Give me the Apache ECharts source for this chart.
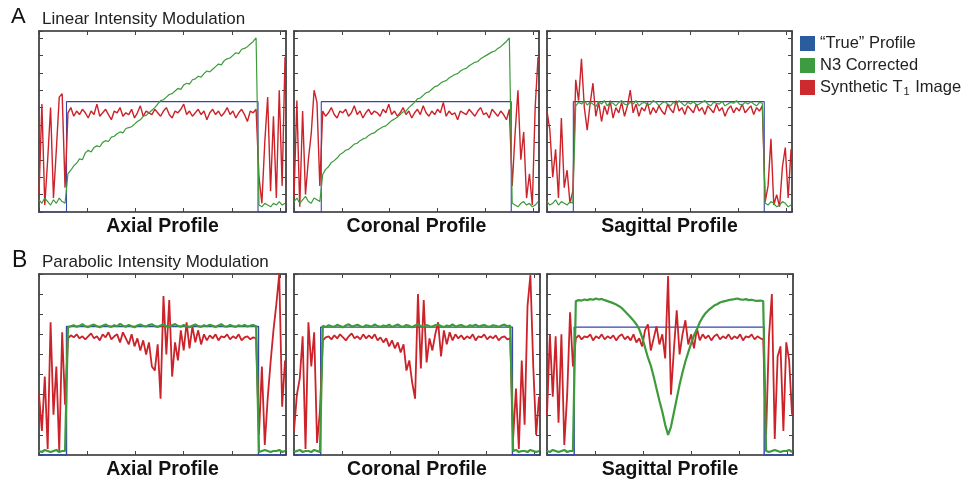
<!DOCTYPE html>
<html>
<head>
<meta charset="utf-8">
<script src="https://cdn.jsdelivr.net/npm/echarts@6/dist/echarts.min.js"></script>
<style>
  html, body { margin: 0; padding: 0; background: #fff; }
  #chart { width: 965px; height: 481px; }
</style>
</head>
<body>
<div id="chart"></div>
<script>
// sample positions along each profile (voxel index)
var xs = Array.from({length: 86}, function (_, i) { return i * 3; });

// "True" profile: [start, end, level]
var axialLinTrue = [28.5, 227, 63.4];
var coronalLinTrue = [28.5, 227, 63.4];
var sagittalLinTrue = [27.5, 227, 63.4];
var axialParTrue = [28.5, 227.5, 63.9];
var coronalParTrue = [27.8, 227.3, 63.6];
var sagittalParTrue = [28.3, 226, 63.6];

// A: linear modulation
var axialLinRed = [10, 62, 4, 30, 60, 8, 36, 66, 68, 14,
  57, 60, 55, 58, 56, 59, 57, 54, 58, 56,
  62, 55, 57, 59, 56, 53, 58, 57, 60, 55,
  57, 56, 59, 54, 57, 61, 55, 58, 57, 56,
  59, 57, 55, 58, 60, 56, 54, 58, 57, 59,
  62, 56, 58, 55, 57, 59, 56, 58, 53, 57,
  59, 56, 58, 55, 57, 60, 56, 58, 54, 57,
  59, 56, 52, 58, 57, 59,
  20, 5, 40, 66, 12, 55, 8, 70, 15, 89];
var axialLinGreen = [7, 5, 8, 6, 4, 7, 5, 8, 6, 5,
  22, 24, 26.5, 28, 30.5, 30, 34, 35.5, 34.5, 37,
  38, 37.5, 40, 41, 40.5, 43, 43.5, 45, 46, 45.5,
  48, 48.5, 49, 50.5, 52, 53, 55, 55.5, 57, 58.5,
  60, 62, 64, 64.5, 66, 67.5, 68, 69.5, 71, 70.5,
  73, 74, 73.5, 76, 76.5, 78, 77.5, 79.5, 81, 80.5,
  82, 83.5, 85, 84.5, 87, 88, 88.5, 90, 91.5, 91,
  93.5, 94, 95, 96.5, 98, 100,
  4, 3, 5, 4, 3, 5, 4, 6, 4, 5];

var coronalLinRed = [8, 64, 3, 58, 10, 30, 45, 70, 63, 15,
  58, 55, 57, 60, 56, 54, 58, 57, 59, 55,
  57, 61, 56, 58, 54, 57, 59, 56, 58, 57,
  55, 59, 57, 62, 56, 58, 55, 57, 60, 56,
  58, 54, 57, 59, 56, 61, 57, 55, 58, 56,
  59, 57, 63, 55, 58, 56, 57, 53, 58, 57,
  56, 59, 57, 55, 58, 60, 56, 57, 54, 59,
  57, 55, 58, 56, 53, 59,
  15, 45, 70, 30, 46, 8, 22, 4, 60, 89];
var coronalLinGreen = [6, 8, 5, 7, 9, 6, 5, 8, 7, 6,
  21.5, 24.5, 26, 28.5, 29.5, 31, 33, 34, 35.5, 36,
  37.5, 39, 39.5, 41, 42, 42.5, 44, 45, 45.5, 47,
  48, 49, 49.5, 51, 52.5, 53.5, 54.5, 56, 57.5, 58,
  60, 61.5, 63, 65, 65.5, 67, 68.5, 69, 70.5, 72,
  72.5, 74, 75, 75.5, 77, 78, 79, 79.5, 81, 82,
  82.5, 84, 85, 86, 86.5, 88, 89, 90, 91, 92,
  92.5, 94, 95, 96.5, 98, 100,
  5, 4, 3, 5, 6, 4, 5, 3, 4, 6];

var sagittalLinRed = [58, 47, 20, 36, 8, 54, 14, 24, 5, 12,
  76, 64, 88, 60, 47, 62, 74, 55, 63, 52,
  61, 56, 64, 54, 60, 57, 63, 55, 61, 70,
  57, 62, 55, 60, 58, 63, 56, 60, 57, 61,
  58, 56, 62, 59, 57, 64, 58, 60, 56, 61,
  59, 57, 62, 58, 60, 56, 61, 59, 57, 62,
  58, 60, 55, 59, 61, 57, 60, 58, 62, 57,
  59, 61, 56, 60, 58, 61,
  6, 15, 42, 4, 10, 3, 26, 37, 8, 36];
var sagittalLinGreen = [6, 4, 5, 7, 4, 6, 5, 4, 6, 5,
  61, 63, 62, 64, 61.5, 63, 62, 60.5, 63.5, 62,
  64, 61, 63, 62.5, 61, 63, 64, 62, 61.5, 63,
  62, 64, 61, 62.5, 63, 61.5, 62, 64, 63, 61,
  62.5, 63.5, 62, 61, 63, 62, 64, 62.5, 61, 63,
  62, 63.5, 61.5, 62, 63, 64, 62, 61, 63, 62.5,
  62, 63.5, 61, 62, 63, 62.5, 64, 62, 61.5, 63,
  62, 63.5, 62, 61, 63, 62.5,
  5, 4, 6, 5, 3, 4, 6, 5, 3, 4];

// B: parabolic modulation
var axialParRed = [30, 12, 39, 3, 66, 20, 44, 2, 61, 25,
  58, 59.5, 58.5, 60, 58, 59, 57.5, 59, 60.5, 58,
  59, 57, 60, 58.5, 61, 57.5, 59, 60, 56, 61,
  58, 55, 60, 54, 58, 52, 57, 50, 56, 44,
  42, 55, 28, 79, 50, 77, 39, 56, 47, 62,
  52, 66, 53, 64, 56, 62, 55, 60, 57, 59.5,
  58, 60, 57, 59, 58.5, 60, 57.5, 59, 58, 60,
  57, 58.5, 59, 57.5, 58.5, 58,
  10, 44, 5, 28, 46, 62, 75, 90, 24, 47];
var axialParGreen = [2, 1.5, 2.5, 2, 1.5, 2, 2.5, 1.5, 2, 2,
  63.5, 64, 64.5, 63.8, 64.2, 65, 64, 63.6, 64.4, 64.8,
  64, 63.5, 64.3, 64.9, 64.1, 63.7, 64.5, 64, 65.2, 64.3,
  63.8, 64.6, 64, 63.5, 64.4, 64.9, 64.2, 63.9, 64.6, 65,
  64.1, 63.7, 64.4, 64.8, 64, 63.6, 64.5, 65.1, 64.2, 63.8,
  64.6, 64, 63.5, 64.3, 64.9, 64.1, 63.7, 64.5, 64, 64.8,
  64.2, 63.6, 64.4, 65, 64, 63.8, 64.6, 64.1, 63.7, 64.5,
  64, 64.7, 63.9, 64.3, 64.6, 64,
  1.5, 2, 2.5, 2, 1.5, 2, 2, 2.5, 1.5, 2];

var coronalParRed = [12, 30, 38, 59, 3, 66, 44, 61, 6, 22,
  57, 58.5, 59, 57.5, 59.5, 58, 60, 58.5, 57, 59,
  60.5, 58, 59, 57.5, 60, 58, 59.5, 58, 60, 57,
  58.5, 56, 58, 54, 57, 53, 56, 51, 55, 42,
  47, 36, 28, 80, 43, 77, 46, 58, 52, 60,
  66, 49, 62, 55, 61, 57, 60, 58, 59.5, 57.5,
  59, 58, 60, 57, 59, 58.5, 60, 57.5, 59, 58,
  59.5, 57, 58.5, 59, 57.5, 58,
  8, 33, 3, 47, 15, 74, 89.5, 44, 10, 29];
var coronalParGreen = [1.5, 2, 2.5, 1.5, 2, 2, 1.5, 2.5, 2, 1.5,
  64.2, 63.6, 64.5, 64, 63.8, 64.7, 64.1, 63.5, 64.4, 65,
  63.9, 64.3, 64.8, 64, 63.6, 64.5, 64.2, 63.8, 64.9, 64.1,
  63.7, 64.4, 64, 64.8, 63.6, 64.3, 64.9, 64, 63.8, 64.6,
  64.2, 63.5, 64.4, 65, 64.1, 63.7, 64.6, 64, 63.9, 64.5,
  64.8, 64.1, 63.6, 64.4, 64, 64.9, 63.8, 64.3, 64.6, 64,
  63.7, 64.5, 64.1, 64.8, 63.9, 64.3, 64.6, 64, 63.8, 64.5,
  64.2, 63.7, 64.4, 64.8, 64, 64.3,
  2, 2.5, 1.5, 2, 2, 1.5, 2.5, 2, 1.5, 2];

var sagittalParRed = [20, 60, 29, 59, 16, 60, 5, 30, 71, 44,
  58, 59.5, 57.5, 59, 58.5, 60, 57, 59, 58, 60,
  57.5, 59, 58, 59.5, 57, 59, 60, 57.5, 59, 57,
  60, 56, 58, 54, 62, 65, 52, 58, 64, 55,
  60, 48, 89, 30, 52, 72, 50, 60, 67, 55,
  60, 53, 63, 57, 60, 58, 59.5, 57, 59, 60,
  57.5, 59, 58, 60, 57.5, 59, 58, 60, 57, 59,
  58.5, 60, 57.5, 59, 58, 57.5,
  10, 59, 80, 8, 49, 54, 12, 56, 47, 20];
var sagittalParGreen = [2, 1.5, 2.5, 2, 1.5, 2, 2.5, 1.5, 2, 2,
  76.5, 77, 76.8, 77.3, 77, 77.5, 77.2, 77.8, 77.3, 77.6,
  77, 76.5, 76, 75.5, 74.8, 74, 73, 71.5, 70, 68.5,
  66.8, 65, 62.5, 58.5, 53.5, 48.5, 44.5, 39, 33, 27,
  21.5, 15, 10, 14, 21, 28, 35, 41, 46.5, 51,
  55.5, 59.5, 62.5, 66, 68.5, 70.5, 72, 73.2, 74.3, 75,
  75.8, 76.3, 76.6, 77, 77.3, 77.5, 77.8, 77.4, 77.2, 77.5,
  77, 77.2, 76.8, 76.6, 76.8, 76.5,
  2, 1.5, 2, 2.5, 2, 1.5, 2, 2, 2.5, 1.5];

var FONT = 'Liberation Sans, Arial, Helvetica, sans-serif';
var RED = '#cc2229', GREEN = '#3d9b3b', BLUE = '#3646ac';
var NAMES = ['\u201cTrue\u201d Profile', 'N3 Corrected', 'Synthetic T1 Image'];

var panels = [
  {left: 39, top: 31, width: 247, height: 181, ymax: 104, label: 'Axial Profile', t: axialLinTrue, red: axialLinRed, green: axialLinGreen, thick: false},
  {left: 294, top: 31, width: 245, height: 181, ymax: 104, label: 'Coronal Profile', t: coronalLinTrue, red: coronalLinRed, green: coronalLinGreen, thick: false},
  {left: 547, top: 31, width: 245, height: 181, ymax: 104, label: 'Sagittal Profile', t: sagittalLinTrue, red: sagittalLinRed, green: sagittalLinGreen, thick: false},
  {left: 39, top: 274, width: 247, height: 182, ymax: 90, label: 'Axial Profile', t: axialParTrue, red: axialParRed, green: axialParGreen, thick: true},
  {left: 294, top: 274, width: 246, height: 182, ymax: 90, label: 'Coronal Profile', t: coronalParTrue, red: coronalParRed, green: coronalParGreen, thick: true},
  {left: 547, top: 274, width: 246, height: 182, ymax: 90, label: 'Sagittal Profile', t: sagittalParTrue, red: sagittalParRed, green: sagittalParGreen, thick: true}
];

function pairs(vals) {
  return xs.map(function (x, i) { return [x, vals[i]]; });
}
function stepLine(t) {
  return [[0, 0], [t[0], 0], [t[0], t[2]], [t[1], t[2]], [t[1], 0], [256, 0]];
}

var grids = [], xAxes = [], yAxes = [], series = [];
var lineAx = {show: true, onZero: false, lineStyle: {color: '#2a2a2a', width: 1.6}};
var tickIn = {show: true, inside: true, length: 4, lineStyle: {color: '#444', width: 1}};

panels.forEach(function (p, k) {
  grids.push({left: p.left, top: p.top, width: p.width, height: p.height});
  ['bottom', 'top'].forEach(function (pos) {
    xAxes.push({
      type: 'value', gridIndex: k, position: pos, min: 0, max: 256, interval: 50,
      axisLine: lineAx, axisTick: tickIn, axisLabel: {show: false}, splitLine: {show: false},
      name: pos === 'bottom' ? p.label : '', nameLocation: 'middle', nameGap: 5,
      nameTextStyle: {fontSize: 19.5, fontWeight: 'bold', color: '#111', fontFamily: FONT}
    });
  });
  ['left', 'right'].forEach(function (pos) {
    yAxes.push({
      type: 'value', gridIndex: k, position: pos, min: 0, max: p.ymax, interval: 10,
      axisLine: lineAx, axisTick: tickIn, axisLabel: {show: false}, splitLine: {show: false}
    });
  });
  var common = {type: 'line', xAxisIndex: 2 * k, yAxisIndex: 2 * k, showSymbol: false, symbol: 'none', silent: true, animation: false};
  series.push(Object.assign({}, common, {
    name: NAMES[0], data: stepLine(p.t), z: 2,
    lineStyle: {color: BLUE, width: p.thick ? 1.4 : 1.1}, itemStyle: {color: BLUE}
  }));
  series.push(Object.assign({}, common, {
    name: NAMES[2], data: pairs(p.red), z: 3,
    lineStyle: {color: RED, width: p.thick ? 1.8 : 1.4}, itemStyle: {color: RED}
  }));
  series.push(Object.assign({}, common, {
    name: NAMES[1], data: pairs(p.green), z: 4,
    lineStyle: {color: GREEN, width: p.thick ? 2.2 : 1.2}, itemStyle: {color: GREEN}
  }));
});

var chart = echarts.init(document.getElementById('chart'));
chart.setOption({
  backgroundColor: '#fff',
  animation: false,
  textStyle: {fontFamily: FONT},
  grid: grids,
  xAxis: xAxes,
  yAxis: yAxes,
  series: series,
  legend: {
    orient: 'vertical', left: 795, top: 30, itemWidth: 15, itemHeight: 15, itemGap: 5,
    icon: 'rect', selectedMode: false,
    data: [
      {name: NAMES[0], itemStyle: {color: '#2b5d9e'}},
      {name: NAMES[1], itemStyle: {color: '#3f9b3f'}},
      {name: NAMES[2], itemStyle: {color: '#cc2a2f'}}
    ],
    textStyle: {fontSize: 16.5, color: '#222', fontFamily: FONT,
      rich: {n: {fontSize: 16.5, color: '#222', fontFamily: FONT}, s: {fontSize: 11, color: '#222', fontFamily: FONT, padding: [8, 1, 0, 1]}}},
    formatter: function (name) {
      return name === NAMES[2] ? '{n|Synthetic T}{s|1}{n| Image}' : name;
    }
  },
  graphic: [
    {type: 'text', left: 11, top: 6, style: {text: 'A', fontSize: 22, fill: '#111', fontFamily: FONT}},
    {type: 'text', left: 42, top: 11, style: {text: 'Linear Intensity Modulation', fontSize: 17, fill: '#222', fontFamily: FONT}},
    {type: 'text', left: 12, top: 249, style: {text: 'B', fontSize: 23, fill: '#111', fontFamily: FONT}},
    {type: 'text', left: 42, top: 254, style: {text: 'Parabolic Intensity Modulation', fontSize: 17, fill: '#222', fontFamily: FONT}}
  ]
});
</script>
</body>
</html>
